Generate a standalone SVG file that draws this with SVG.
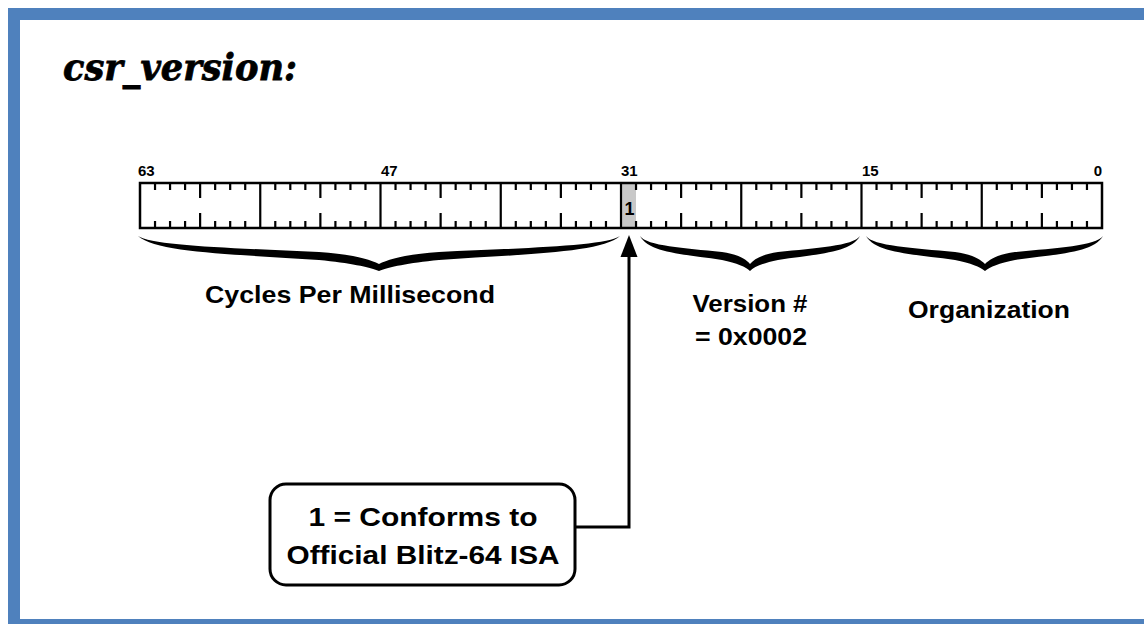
<svg xmlns="http://www.w3.org/2000/svg" xmlns:xlink="http://www.w3.org/1999/xlink" width="1144" height="624" viewBox="0 0 1144 624">
<style>
.lbl{font-family:"Liberation Sans",Arial,sans-serif;font-weight:bold;fill:#000}
.tk{stroke:#000;stroke-width:2.2;fill:none}
.frame{fill:#4f81bd}
.brace{fill:#000}
.conn{stroke:#000;stroke-width:3;fill:none}
</style>
<defs>
<g id="byteTicks">
<path class="tk" d="M15.03,183V190M30.06,183V190M45.09,183V190M60.12,183V198M75.16,183V190M90.19,183V190M105.22,183V190M15.03,228V221M30.06,228V221M45.09,228V221M60.12,228V213M75.16,228V221M90.19,228V221M105.22,228V221"/>
</g>
</defs>
<rect width="1144" height="624" fill="#fff"/>
<g id="frame">
<rect class="frame" x="8" y="8" width="1136" height="12"/>
<rect class="frame" x="8" y="8" width="12" height="616"/>
<rect class="frame" x="8" y="619" width="1136" height="5"/>
</g>
<g id="title">
<text x="63" y="80" font-family="'DejaVu Serif',serif" font-weight="bold" font-style="italic" font-size="37" stroke="#000" stroke-width="0.8" textLength="234" lengthAdjust="spacingAndGlyphs">csr_version:</text>
</g>
<g id="register">
<rect x="621" y="183" width="15" height="45" fill="#c8c8c8"/>
<use xlink:href="#byteTicks" x="140"/>
<use xlink:href="#byteTicks" x="260.25"/>
<use xlink:href="#byteTicks" x="380.5"/>
<use xlink:href="#byteTicks" x="500.75"/>
<use xlink:href="#byteTicks" x="621"/>
<use xlink:href="#byteTicks" x="741.25"/>
<use xlink:href="#byteTicks" x="861.5"/>
<use xlink:href="#byteTicks" x="981.75"/>
<path class="tk" stroke-width="2.5" d="M260.25,183V228M380.5,183V228M500.75,183V228M621,183V228M741.25,183V228M861.5,183V228M981.75,183V228"/>
<rect x="140" y="183" width="962" height="45" fill="none" stroke="#000" stroke-width="2.5"/>
<text class="lbl" x="624.5" y="215" font-size="18">1</text>
<text class="lbl" x="138" y="176" font-size="15">63</text>
<text class="lbl" x="381" y="176" font-size="15">47</text>
<text class="lbl" x="621" y="176" font-size="15">31</text>
<text class="lbl" x="862" y="176" font-size="15">15</text>
<text class="lbl" x="1102" y="176" font-size="15" text-anchor="end">0</text>
</g>
<g id="brace-cycles">
<path class="brace" d="M138,236 C157,253 234,254 319,260 C350,263 369,267 379,271 C389,267 408,263 439,260 C524,254 601,253 620,236 C606,246 524,248 439,252 C408,254 389,259 379,264 C369,259 350,254 319,252 C234,248 152,246 138,236 Z"/>
<text class="lbl" x="350" y="303" font-size="23" text-anchor="middle" textLength="290" lengthAdjust="spacingAndGlyphs">Cycles Per Millisecond</text>
</g>
<g id="brace-version">
<path class="brace" d="M640,236 C649,253 684,254 722,260 C737,263 746,267 750,271 C754,267 763,263 778,260 C816,254 851,253 860,236 C853,246 816,248 778,252 C763,254 754,259 750,264 C746,259 737,254 722,252 C684,248 647,246 640,236 Z"/>
<text class="lbl" x="750" y="312" font-size="23" text-anchor="middle" textLength="115" lengthAdjust="spacingAndGlyphs">Version #</text>
<text class="lbl" x="751" y="345" font-size="23" text-anchor="middle" textLength="112" lengthAdjust="spacingAndGlyphs">= 0x0002</text>
</g>
<g id="brace-org">
<path class="brace" d="M866,236 C875.5,253 913,254 955,260 C971,263 980,267 985,271 C990,267 999,263 1015,260 C1056,254 1093.5,253 1103,236 C1096,246 1056,248 1015,252 C999,254 990,259 985,264 C980,259 971,254 955,252 C913,248 873,246 866,236 Z"/>
<text class="lbl" x="989" y="318" font-size="23" text-anchor="middle" textLength="162" lengthAdjust="spacingAndGlyphs">Organization</text>
</g>
<g id="connectors">
<path class="conn" d="M575,527 H629 V254"/>
<polygon points="629,235 620.5,257 637.5,257" fill="#000"/>
</g>
<g id="callout">
<rect x="270" y="484" width="305" height="101" rx="16" ry="16" fill="#fff" stroke="#000" stroke-width="3"/>
<text class="lbl" x="423" y="526" font-size="25" text-anchor="middle" textLength="229" lengthAdjust="spacingAndGlyphs">1 = Conforms to</text>
<text class="lbl" x="423" y="564" font-size="25" text-anchor="middle" textLength="273" lengthAdjust="spacingAndGlyphs">Official Blitz-64 ISA</text>
</g>
</svg>
